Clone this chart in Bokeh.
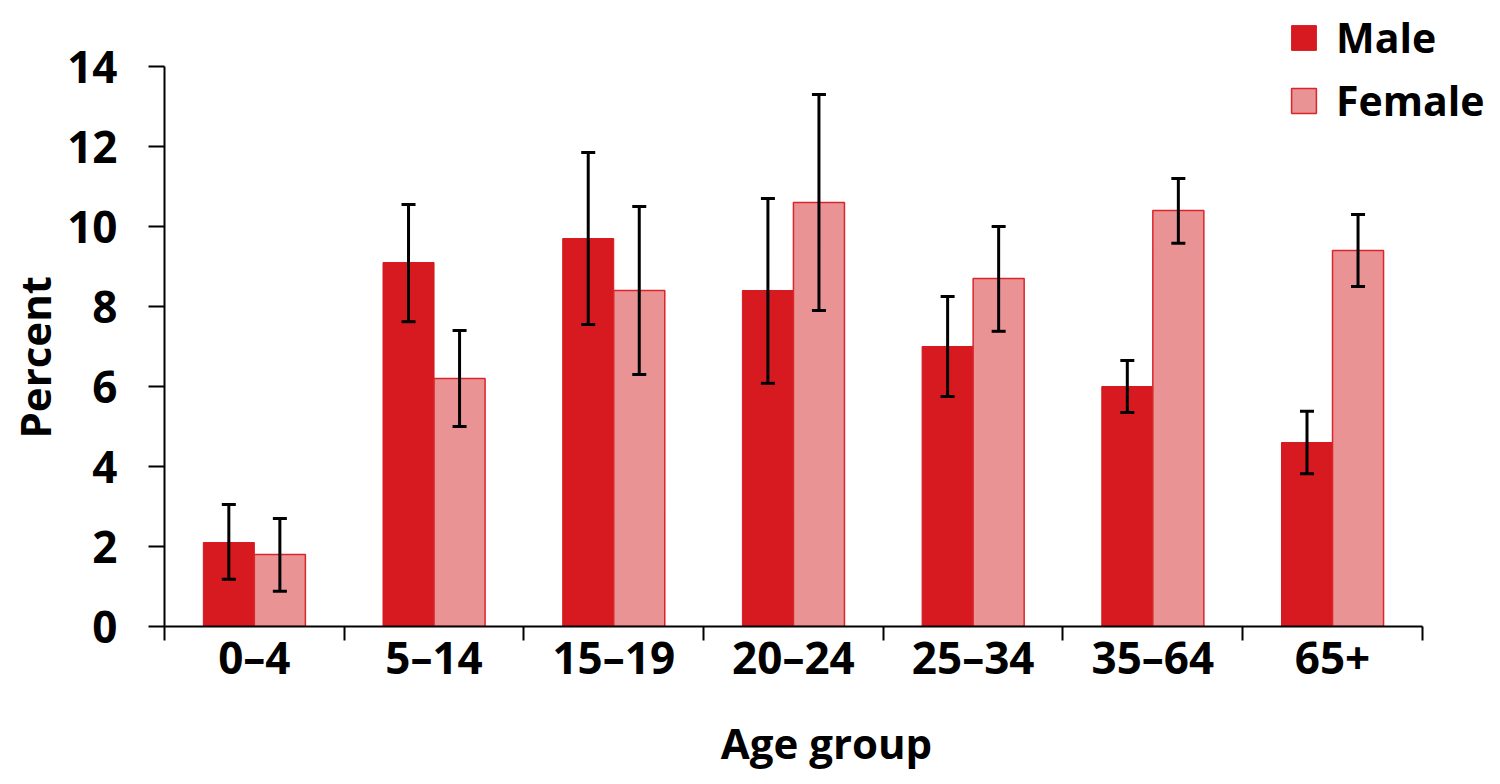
import numpy as np
from bokeh.plotting import figure
from bokeh.models import (ColumnDataSource, Whisker, TeeHead, FixedTicker,
                          Legend, LegendItem, Range1d, Title)
from bokeh.embed import file_html
from bokeh.resources import INLINE

# ---- data ----
age_groups = ["0–4", "5–14", "15–19", "20–24", "25–34", "35–64", "65+"]
male = [2.1, 9.1, 9.7, 8.4, 7.0, 6.0, 4.6]
male_low = [1.18, 7.62, 7.55, 6.08, 5.75, 5.35, 3.82]
male_high = [3.05, 10.55, 11.85, 10.7, 8.25, 6.65, 5.38]
female = [1.8, 6.2, 8.4, 10.6, 8.7, 10.4, 9.4]
female_low = [0.88, 5.0, 6.3, 7.9, 7.38, 9.58, 8.5]
female_high = [2.7, 7.4, 10.5, 13.3, 10.0, 11.2, 10.3]
y_ticks = [0, 2, 4, 6, 8, 10, 12, 14]

MALE_COLOR = "#D71920"
FEMALE_COLOR = "#EA9395"
FEMALE_EDGE = "#D9262B"
FONT = "Open Sans"

bar_w = 0.284
centers = np.arange(len(age_groups)) + 0.5

src_m = ColumnDataSource(dict(x=centers - bar_w / 2, top=male, lower=male_low, upper=male_high))
src_f = ColumnDataSource(dict(x=centers + bar_w / 2, top=female, lower=female_low, upper=female_high))

p = figure(width=1492, height=776, output_backend="svg", toolbar_location=None,
           x_range=Range1d(0, 7.368), y_range=Range1d(0, 15.65),
           min_border_left=164, min_border_right=4, min_border_top=0, min_border_bottom=150)
p.outline_line_color = None
p.xgrid.visible = False
p.ygrid.visible = False
p.background_fill_color = "white"

rm = p.vbar(x="x", top="top", width=bar_w, source=src_m, fill_color=MALE_COLOR, line_color=MALE_COLOR, line_width=1)
rf = p.vbar(x="x", top="top", width=bar_w, source=src_f, fill_color=FEMALE_COLOR, line_color=FEMALE_EDGE, line_width=1.5)

for src in (src_m, src_f):
    w = Whisker(source=src, base="x", lower="lower", upper="upper",
                line_color="black", line_width=3, level="overlay",
                upper_head=TeeHead(size=14, line_width=3, line_color="black"),
                lower_head=TeeHead(size=14, line_width=3, line_color="black"))
    p.add_layout(w)

# x axis
xa = p.xaxis[0]
xa.ticker = FixedTicker(ticks=list(centers), minor_ticks=list(range(len(age_groups) + 1)))
xa.major_label_overrides = {float(c): g for c, g in zip(centers, age_groups)}
xa.bounds = (0, len(age_groups))
xa.major_tick_out = 0
xa.major_tick_in = 0
xa.minor_tick_out = 14
xa.minor_tick_in = 0
xa.minor_tick_line_width = 2
xa.minor_tick_line_color = "black"
xa.axis_line_width = 2
xa.axis_line_color = "black"
xa.major_label_text_font = FONT
xa.major_label_text_font_style = "bold"
xa.major_label_text_font_size = "44px"
xa.major_label_text_color = "black"
xa.major_label_standoff = -14
xa.axis_label = "Age group"
xa.axis_label_text_font = FONT
xa.axis_label_text_font_style = "bold"
xa.axis_label_text_font_size = "42px"
xa.axis_label_text_color = "black"
xa.axis_label_standoff = 24

# y axis
ya = p.yaxis[0]
ya.ticker = FixedTicker(ticks=y_ticks)
ya.bounds = (0, 14)
ya.major_tick_out = 16
ya.major_tick_in = 0
ya.minor_tick_out = 0
ya.minor_tick_in = 0
ya.major_tick_line_width = 2
ya.axis_line_width = 2
ya.axis_line_color = "black"
ya.major_tick_line_color = "black"
ya.major_label_text_font = FONT
ya.major_label_text_font_style = "bold"
ya.major_label_text_font_size = "44px"
ya.major_label_text_color = "black"
ya.major_label_standoff = 31

ytitle = Title(text="Percent", align="left", offset=188, standoff=4,
               text_font=FONT, text_font_style="bold", text_font_size="42px",
               text_color="black")
p.add_layout(ytitle, "left")

legend = Legend(items=[LegendItem(label="Male", renderers=[rm]),
                       LegendItem(label="Female", renderers=[rf])],
                location=(1124, 498), margin=0, padding=0, spacing=7,
                glyph_width=31, glyph_height=31, label_standoff=17,
                label_text_font=FONT, label_text_font_style="bold",
                label_text_font_size="41px", label_text_color="black",
                background_fill_alpha=0, border_line_color=None)
p.add_layout(legend)

open("out.html", "w").write(file_html(p, INLINE))
